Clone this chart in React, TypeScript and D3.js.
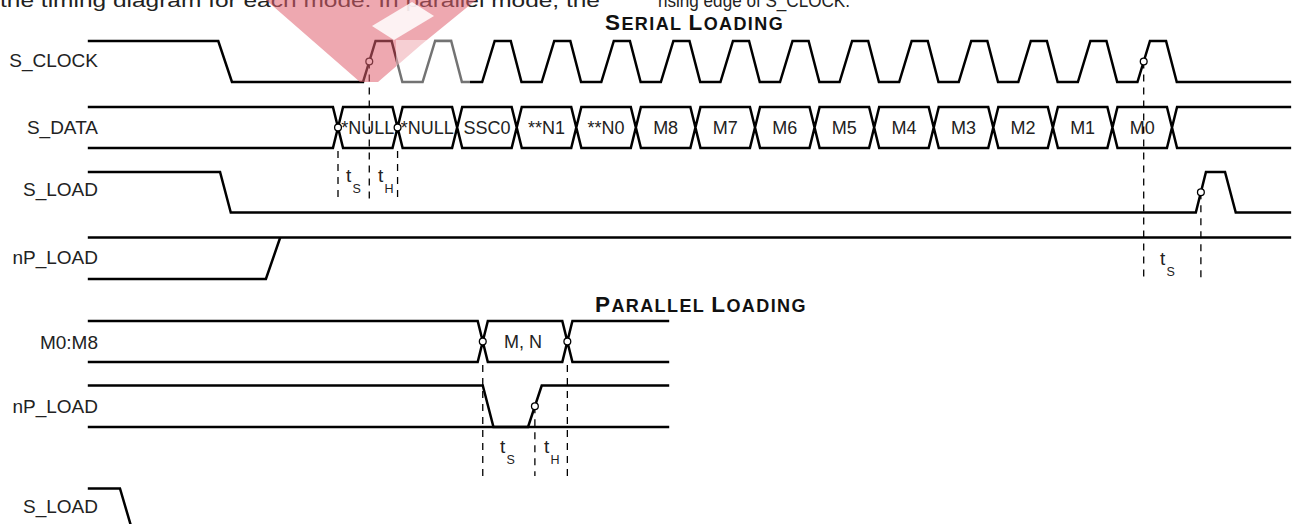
import React from "react";
import * as d3 from "d3";

type Pt = [number, number];

// time is in arbitrary units, one serial bit slot = 10
const serialCells = ["*NULL", "*NULL", "SSC0", "**N1", "**N0", "M8", "M7", "M6", "M5", "M4", "M3", "M2", "M1", "M0"];
const slotLength = 10;
const clockPulse = [4.2, 6.3, 9.0, 10.8]; // rise start, rise end, fall start, fall end inside a slot
const clockLead: Pt[] = [[-42, 1], [-20.1, 1], [-17.8, 0]];
const sLoadWave: Pt[] = [[-42, 1], [-19.8, 1], [-18, 0], [144, 0], [145.7, 1], [148.9, 1], [150.7, 0], [160, 0]];
const nPLoadWave: Pt[] = [[-42, 0], [-12.1, 0], [-9.7, 1]];
const markedCrossings = [0, 1];
const markedClocks = [0, 13];

const parallelCells = ["M, N"];
const parallelEdges = [24.3, 38.5];
const pLoadWave: Pt[] = [[-42, 1], [24.3, 1], [26.1, 0], [31.9, 0], [34.2, 1], [55.6, 1]];
const bottomLoadWave: Pt[] = [[-42, 1], [-36.6, 1], [-34.6, 0]];

const tStart = -42;
const serialEnd = 160;
const parallelEnd = 55.6;

const FONT = "'Liberation Sans', Arial, Helvetica, sans-serif";
const SW = 2.5;
const HALF = 0.85; // half width of a bus transition

const rows = {
  clk: { label: "S_CLOCK", hi: 41, lo: 82, ly: 60 },
  data: { label: "S_DATA", hi: 107, lo: 148, ly: 127 },
  sload: { label: "S_LOAD", hi: 172, lo: 212.5, ly: 189 },
  npload: { label: "nP_LOAD", hi: 237.5, lo: 279, ly: 257 },
  pbus: { label: "M0:M8", hi: 321, lo: 362, ly: 342 },
  pload: { label: "nP_LOAD", hi: 385.5, lo: 427, ly: 406 },
  bload: { label: "S_LOAD", hi: 488.5, lo: 529, ly: 506 },
};
type Row = { label: string; hi: number; lo: number; ly: number };

const x = d3.scaleLinear().domain([0, 140]).range([338, 1172]);

function wave(row: Row, pts: Pt[]) {
  return d3
    .line<Pt>()
    .x((d) => x(d[0]))
    .y((d) => (d[1] ? row.hi : row.lo))(pts) as string;
}

function busPath(row: Row, edges: number[], start: number, end: number) {
  const t = row.hi;
  const b = row.lo;
  const m = (t + b) / 2;
  const p = d3.path();
  const e0 = edges[0];
  p.moveTo(x(start), t);
  p.lineTo(x(e0 - HALF), t);
  p.lineTo(x(e0), m);
  p.lineTo(x(e0 - HALF), b);
  p.lineTo(x(start), b);
  for (let i = 0; i < edges.length - 1; i++) {
    const a = edges[i];
    const c = edges[i + 1];
    p.moveTo(x(a), m);
    p.lineTo(x(a + HALF), t);
    p.lineTo(x(c - HALF), t);
    p.lineTo(x(c), m);
    p.lineTo(x(c - HALF), b);
    p.lineTo(x(a + HALF), b);
    p.closePath();
  }
  const eN = edges[edges.length - 1];
  p.moveTo(x(end), t);
  p.lineTo(x(eN + HALF), t);
  p.lineTo(x(eN), m);
  p.lineTo(x(eN + HALF), b);
  p.lineTo(x(end), b);
  return p.toString();
}

const Dot = ({ cx, cy }: { cx: number; cy: number }) => (
  <circle cx={cx} cy={cy} r={3.4} fill="#fff" stroke="#000" strokeWidth={1.3} />
);

const Dash = ({ t, y1, y2 }: { t: number; y1: number; y2: number }) => (
  <line x1={x(t)} x2={x(t)} y1={y1} y2={y2} stroke="#000" strokeWidth={1.3} strokeDasharray="7,6" />
);

const TSub = ({ px, y, sub }: { px: number; y: number; sub: string }) => (
  <g fontFamily={FONT} fill="#222">
    <text x={px} y={y} fontSize={19}>t</text>
    <text x={px + 6.5} y={y + 10.5} fontSize={12.5}>{sub}</text>
  </g>
);

const Label = ({ row }: { row: Row }) => (
  <text x={98} y={row.ly} dy="0.35em" textAnchor="end" fontFamily={FONT} fontSize={19} fill="#222">
    {row.label}
  </text>
);

const SmallCaps = ({ px, y, words }: { px: number; y: number; words: string[] }) => (
  <text x={px} y={y} fontFamily={FONT} fontWeight="bold" fill="#111" letterSpacing={1.4}>
    {words.map((w, i) => (
      <React.Fragment key={i}>
        <tspan fontSize={22.5}>{w[0]}</tspan>
        <tspan fontSize={18}>{w.slice(1).toUpperCase() + (i < words.length - 1 ? " " : "")}</tspan>
      </React.Fragment>
    ))}
  </text>
);

export default function App() {
  const clockWave: Pt[] = [...clockLead];
  serialCells.forEach((_, i) => {
    const s = i * slotLength;
    clockWave.push([s + clockPulse[0], 0], [s + clockPulse[1], 1], [s + clockPulse[2], 1], [s + clockPulse[3], 0]);
  });
  clockWave.push([serialEnd, 0]);

  const serialEdges = serialCells.map((_, i) => i * slotLength).concat([serialCells.length * slotLength]);
  const clockMid = (clockPulse[0] + clockPulse[1]) / 2;
  const clkMidY = (rows.clk.hi + rows.clk.lo) / 2;
  const dataMid = (rows.data.hi + rows.data.lo) / 2;
  const sLoadRise = (sLoadWave[3][0] + sLoadWave[4][0]) / 2;
  const sLoadMidY = (rows.sload.hi + rows.sload.lo) / 2;
  const pMid = (rows.pbus.hi + rows.pbus.lo) / 2;
  const pLoadRise = (pLoadWave[3][0] + pLoadWave[4][0]) / 2;
  const pLoadMidY = (rows.pload.hi + rows.pload.lo) / 2;

  return (
    <svg
      width={1296}
      height={524}
      style={{ position: "absolute", left: 0, top: 0, background: "#fff" }}
    >
      {/* clipped body text above the figure */}
      <g fontFamily={FONT} fontSize={19} fill="#222">
        <text x={0} y={7} textLength={600} lengthAdjust="spacingAndGlyphs">
          the timing diagram for each mode. In parallel mode, the
        </text>
        <text x={658} y={7} textLength={192} lengthAdjust="spacingAndGlyphs">
          rising edge of S_CLOCK.
        </text>
      </g>

      <SmallCaps px={605} y={30} words={["Serial", "Loading"]} />
      <SmallCaps px={595} y={312} words={["Parallel", "Loading"]} />

      {Object.values(rows).map((r, i) => (
        <Label key={i} row={r} />
      ))}

      <g fill="none" stroke="#000" strokeWidth={SW} strokeLinejoin="miter">
        <path d={wave(rows.clk, clockWave)} />
        <path d={busPath(rows.data, serialEdges, tStart, serialEnd)} />
        <path d={wave(rows.sload, sLoadWave)} />
        <path d={wave(rows.npload, nPLoadWave)} />
        <path d={wave(rows.npload, [[tStart, 1], [serialEnd, 1]])} />
        <path d={busPath(rows.pbus, parallelEdges, tStart, parallelEnd)} />
        <path d={wave(rows.pload, pLoadWave)} />
        <path d={wave(rows.pload, [[tStart, 0], [parallelEnd, 0]])} />
        <path d={wave(rows.bload, bottomLoadWave)} />
      </g>

      <g fontFamily={FONT} fontSize={18} fill="#222" textAnchor="middle">
        {serialCells.map((c, i) => (
          <text key={i} x={x(i * slotLength + slotLength / 2)} y={dataMid} dy="0.36em">
            {c}
          </text>
        ))}
        {parallelCells.map((c, i) => (
          <text key={i} x={x((parallelEdges[i] + parallelEdges[i + 1]) / 2) - 2} y={pMid} dy="0.36em">
            {c}
          </text>
        ))}
      </g>

      {/* serial setup / hold */}
      <Dash t={serialEdges[0]} y1={rows.data.lo + 3} y2={200} />
      <Dash t={clockMid} y1={clkMidY} y2={200} />
      <Dash t={serialEdges[1]} y1={rows.data.lo + 3} y2={200} />
      <TSub px={346} y={182} sub="S" />
      <TSub px={378} y={182} sub="H" />

      {/* S_LOAD setup after last bit */}
      <Dash t={markedClocks[1] * slotLength + clockMid} y1={clkMidY} y2={281} />
      <Dash t={sLoadRise} y1={sLoadMidY} y2={281} />
      <TSub px={1160} y={265} sub="S" />

      {/* parallel setup / hold */}
      <Dash t={parallelEdges[0]} y1={rows.pbus.lo + 3} y2={476} />
      <Dash t={pLoadRise} y1={pLoadMidY} y2={476} />
      <Dash t={parallelEdges[1]} y1={rows.pbus.lo + 3} y2={476} />
      <TSub px={500} y={453} sub="S" />
      <TSub px={544} y={453} sub="H" />

      {markedCrossings.map((i) => (
        <Dot key={"c" + i} cx={x(serialEdges[i])} cy={dataMid} />
      ))}
      {markedClocks.map((i) => (
        <Dot key={"k" + i} cx={x(i * slotLength + clockMid)} cy={clkMidY} />
      ))}
      <Dot cx={x(sLoadRise)} cy={sLoadMidY} />
      {parallelEdges.map((e, i) => (
        <Dot key={"p" + i} cx={x(e)} cy={pMid} />
      ))}
      <Dot cx={x(pLoadRise)} cy={pLoadMidY} />

      {/* watermark left over from the source page */}
      <path d="M266,0 L476,0 L422,44 L378,82 L360,82 Z" fill="#e06070" opacity={0.55} />
      <path d="M396,40 L470,40 L470,86 L396,86 Z" fill="#fff" opacity={0.45} />
      <path d="M372,26 L412,2 L434,16 L394,40 Z" fill="#fff" opacity={0.85} />
    </svg>
  );
}
